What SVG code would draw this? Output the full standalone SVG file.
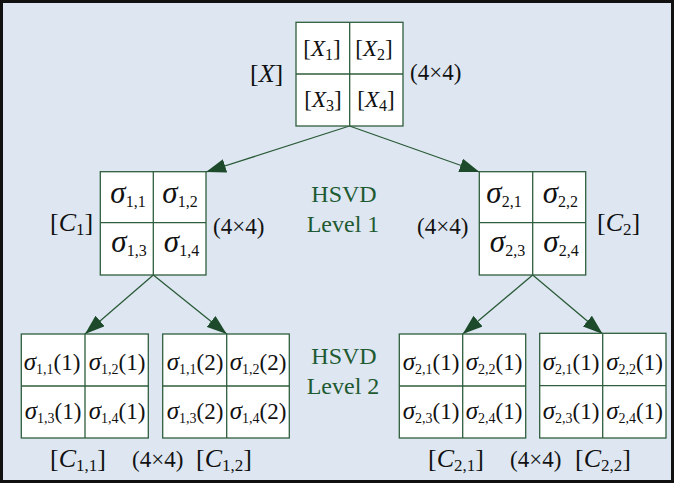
<svg xmlns="http://www.w3.org/2000/svg" width="674" height="483" viewBox="0 0 674 483">
<defs>
<marker id="ah" viewBox="0 0 20 14" refX="20" refY="7" markerWidth="20" markerHeight="14" markerUnits="userSpaceOnUse" orient="auto">
<path d="M0,0 L20,7 L0,14 z" fill="#1c4a2a"/>
</marker>
<style>
.box{fill:#ffffff;stroke:#2f5e3d;stroke-width:1.3}
.div{stroke:#2f5e3d;stroke-width:1.3;fill:none}
.conn{stroke:#2a5a38;stroke-width:1.3;fill:none;marker-end:url(#ah)}
text{font-family:"Liberation Serif","Times New Roman",serif;fill:#111111}
.t{font-size:23px}
.m{text-anchor:middle}
.i{font-style:italic}
.s{font-size:16px}
.g{fill:#1e5a32;font-size:24px;text-anchor:middle}
.sg1{font-size:31px;font-style:italic}
.ss1{font-size:16px}
.sg2{font-size:25px;font-style:italic}
.ss2{font-size:14px}
.lb{font-size:26px}
.ls{font-size:17px}
</style>
</defs>
<rect x="1.5" y="1.5" width="671" height="480" fill="#dee7f1" stroke="#111111" stroke-width="3"/>

<g id="connectors">
<line class="conn" x1="349.5" y1="126" x2="206" y2="172"/>
<line class="conn" x1="349.5" y1="126" x2="479.5" y2="172"/>
<line class="conn" x1="153.3" y1="275" x2="85" y2="334"/>
<line class="conn" x1="153.3" y1="275" x2="226.7" y2="334"/>
<line class="conn" x1="532.7" y1="275" x2="462.7" y2="334"/>
<line class="conn" x1="532.7" y1="275" x2="602.7" y2="334"/>
</g>

<g id="node-X">
<rect class="box" x="296" y="22.3" width="107" height="103.7"/>
<path class="div" d="M349.7,22.3 V126 M296,74 H403"/>
<text class="t m" x="322" y="56">[<tspan class="i">X</tspan><tspan class="s" dy="4">1</tspan><tspan dy="-4">]</tspan></text>
<text class="t m" x="374" y="56">[<tspan class="i">X</tspan><tspan class="s" dy="4">2</tspan><tspan dy="-4">]</tspan></text>
<text class="t m" x="323" y="107">[<tspan class="i">X</tspan><tspan class="s" dy="4">3</tspan><tspan dy="-4">]</tspan></text>
<text class="t m" x="376" y="107">[<tspan class="i">X</tspan><tspan class="s" dy="4">4</tspan><tspan dy="-4">]</tspan></text>
<text class="lb" x="250" y="82">[<tspan class="i">X</tspan>]</text>
<text class="t" x="410" y="80">(4×4)</text>
</g>

<g id="node-C1">
<rect class="box" x="100.3" y="171.7" width="105.7" height="103.3"/>
<path class="div" d="M153.3,171.7 V275 M100.3,222.7 H206"/>
<text class="m" x="128" y="203"><tspan class="sg1">σ</tspan><tspan class="ss1" dy="4">1,1</tspan></text>
<text class="m" x="180" y="203"><tspan class="sg1">σ</tspan><tspan class="ss1" dy="4">1,2</tspan></text>
<text class="m" x="129" y="252"><tspan class="sg1">σ</tspan><tspan class="ss1" dy="4">1,3</tspan></text>
<text class="m" x="181.5" y="252"><tspan class="sg1">σ</tspan><tspan class="ss1" dy="4">1,4</tspan></text>
<text class="lb" x="50" y="231">[<tspan class="i">C</tspan><tspan class="ls" dy="4">1</tspan><tspan dy="-4">]</tspan></text>
<text class="t" x="213" y="234">(4×4)</text>
</g>

<g id="node-C2">
<rect class="box" x="479.3" y="171.7" width="106.4" height="103.3"/>
<path class="div" d="M532.7,171.7 V275 M479.3,222.7 H585.7"/>
<text class="m" x="504" y="203"><tspan class="sg1">σ</tspan><tspan class="ss1" dy="4">2,1</tspan></text>
<text class="m" x="560.3" y="203"><tspan class="sg1">σ</tspan><tspan class="ss1" dy="4">2,2</tspan></text>
<text class="m" x="507.5" y="252"><tspan class="sg1">σ</tspan><tspan class="ss1" dy="4">2,3</tspan></text>
<text class="m" x="561" y="252"><tspan class="sg1">σ</tspan><tspan class="ss1" dy="4">2,4</tspan></text>
<text class="lb" x="597" y="231">[<tspan class="i">C</tspan><tspan class="ls" dy="4">2</tspan><tspan dy="-4">]</tspan></text>
<text class="t" x="417" y="234">(4×4)</text>
</g>

<g id="label-level1">
<text class="g" x="344" y="201.7">HSVD</text>
<text class="g" x="343" y="231.7">Level 1</text>
</g>

<g id="label-level2">
<text class="g" x="344" y="363.5">HSVD</text>
<text class="g" x="343" y="393.5">Level 2</text>
</g>

<g id="node-C11">
<rect class="box" x="21.3" y="334" width="127" height="104"/>
<path class="div" d="M85,334 V438 M21.3,386 H148.3"/>
<text class="m" x="52" y="370"><tspan class="sg2">σ</tspan><tspan class="ss2" dy="4">1,1</tspan><tspan class="t" dy="-4">(1)</tspan></text>
<text class="m" x="117" y="370"><tspan class="sg2">σ</tspan><tspan class="ss2" dy="4">1,2</tspan><tspan class="t" dy="-4">(1)</tspan></text>
<text class="m" x="53" y="419"><tspan class="sg2">σ</tspan><tspan class="ss2" dy="4">1,3</tspan><tspan class="t" dy="-4">(1)</tspan></text>
<text class="m" x="117" y="419"><tspan class="sg2">σ</tspan><tspan class="ss2" dy="4">1,4</tspan><tspan class="t" dy="-4">(1)</tspan></text>
<text class="lb" x="50" y="467">[<tspan class="i">C</tspan><tspan class="ls" dy="4">1,1</tspan><tspan dy="-4">]</tspan></text>
</g>

<g id="node-C12">
<rect class="box" x="162.7" y="334" width="126.6" height="104"/>
<path class="div" d="M226.7,334 V438 M162.7,386 H289.3"/>
<text class="m" x="195" y="370"><tspan class="sg2">σ</tspan><tspan class="ss2" dy="4">1,1</tspan><tspan class="t" dy="-4">(2)</tspan></text>
<text class="m" x="258" y="370"><tspan class="sg2">σ</tspan><tspan class="ss2" dy="4">1,2</tspan><tspan class="t" dy="-4">(2)</tspan></text>
<text class="m" x="195" y="419"><tspan class="sg2">σ</tspan><tspan class="ss2" dy="4">1,3</tspan><tspan class="t" dy="-4">(2)</tspan></text>
<text class="m" x="258" y="419"><tspan class="sg2">σ</tspan><tspan class="ss2" dy="4">1,4</tspan><tspan class="t" dy="-4">(2)</tspan></text>
<text class="lb" x="196" y="467">[<tspan class="i">C</tspan><tspan class="ls" dy="4">1,2</tspan><tspan dy="-4">]</tspan></text>
<text class="t" x="132" y="467">(4×4)</text>
</g>

<g id="node-C21">
<rect class="box" x="399.3" y="334" width="126.4" height="104"/>
<path class="div" d="M462.7,334 V438 M399.3,386 H525.7"/>
<text class="m" x="431" y="370"><tspan class="sg2">σ</tspan><tspan class="ss2" dy="4">2,1</tspan><tspan class="t" dy="-4">(1)</tspan></text>
<text class="m" x="494" y="370"><tspan class="sg2">σ</tspan><tspan class="ss2" dy="4">2,2</tspan><tspan class="t" dy="-4">(1)</tspan></text>
<text class="m" x="431" y="419"><tspan class="sg2">σ</tspan><tspan class="ss2" dy="4">2,3</tspan><tspan class="t" dy="-4">(1)</tspan></text>
<text class="m" x="494" y="419"><tspan class="sg2">σ</tspan><tspan class="ss2" dy="4">2,4</tspan><tspan class="t" dy="-4">(1)</tspan></text>
<text class="lb" x="428" y="467">[<tspan class="i">C</tspan><tspan class="ls" dy="4">2,1</tspan><tspan dy="-4">]</tspan></text>
<text class="t" x="510" y="467">(4×4)</text>
</g>

<g id="node-C22">
<rect class="box" x="539.7" y="333.3" width="126.3" height="104.7"/>
<path class="div" d="M602.7,333.3 V438 M539.7,385.7 H666"/>
<text class="m" x="571" y="370"><tspan class="sg2">σ</tspan><tspan class="ss2" dy="4">2,1</tspan><tspan class="t" dy="-4">(1)</tspan></text>
<text class="m" x="634.5" y="370"><tspan class="sg2">σ</tspan><tspan class="ss2" dy="4">2,2</tspan><tspan class="t" dy="-4">(1)</tspan></text>
<text class="m" x="571" y="419"><tspan class="sg2">σ</tspan><tspan class="ss2" dy="4">2,3</tspan><tspan class="t" dy="-4">(1)</tspan></text>
<text class="m" x="634.5" y="419"><tspan class="sg2">σ</tspan><tspan class="ss2" dy="4">2,4</tspan><tspan class="t" dy="-4">(1)</tspan></text>
<text class="lb" x="575" y="467">[<tspan class="i">C</tspan><tspan class="ls" dy="4">2,2</tspan><tspan dy="-4">]</tspan></text>
</g>
</svg>
